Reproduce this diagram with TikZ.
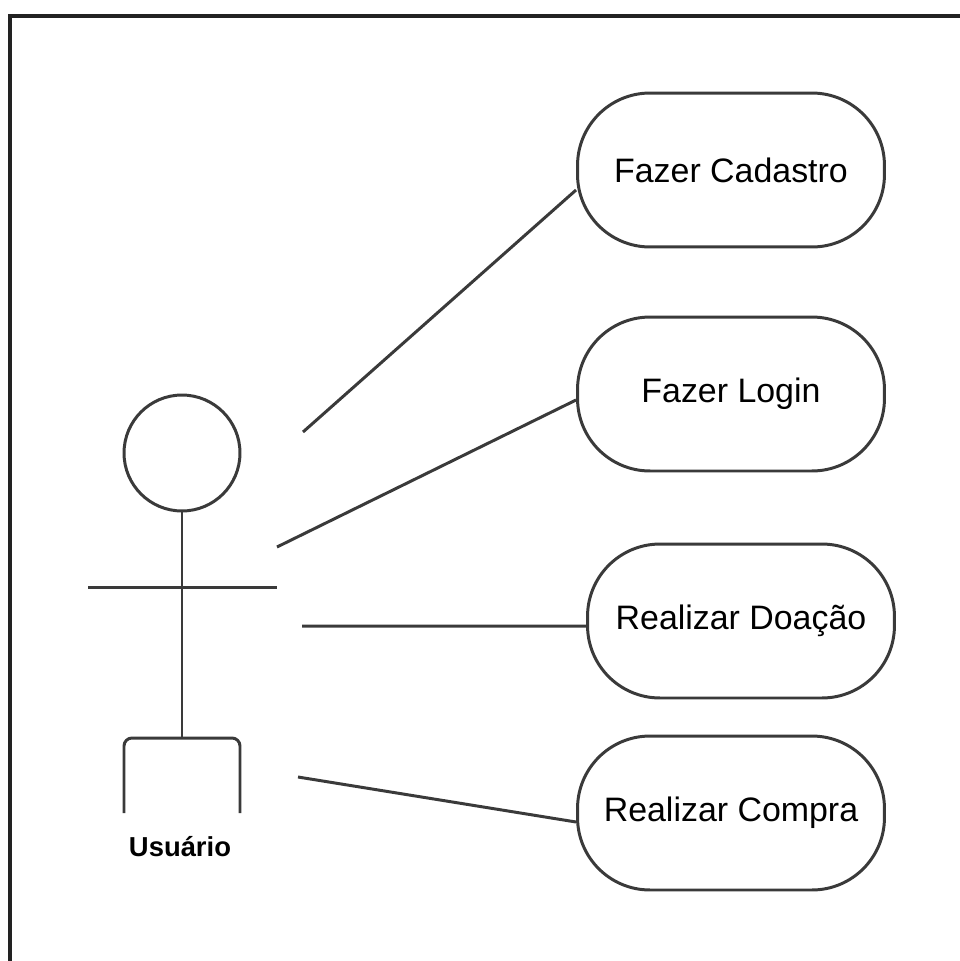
\documentclass[tikz,border=0pt]{standalone}
\usepackage{fontspec}
\setmainfont{Liberation Sans}
\usepackage{tikz}
\usetikzlibrary{positioning}
\definecolor{linegray}{HTML}{3A3A3A}
\definecolor{framegray}{HTML}{222222}

\begin{document}
\begin{tikzpicture}[x=0.02cm,y=-0.02cm,
    stick/.style={draw=linegray,line width=1.7pt},
    usecase/.style={stick,rounded corners=1.45cm,minimum width=6.14cm,minimum height=3.08cm,
      inner sep=0pt,font=\fontsize{19.3}{23}\selectfont},
    link/.style={stick}]
  \useasboundingbox (0,0) rectangle (960,961);

  % outer frame (only left and top edges are visible)
  \draw [color=framegray,line width=2.8pt] (10,961) -- (10,16) -- (960,16);

  % actor
  \path (182,453) node (head) [stick,circle,minimum size=2.32cm,inner sep=0pt]{};
  \path (182,738) coordinate (hip);
  \path (88,587) coordinate (armL);
  \path (277,587) coordinate (armR);
  \draw [stick] (head.south) -- (hip);
  \draw [stick] (armL) -- (armR);
  \draw [stick,rounded corners=0.16cm] (124,813) -- (124,738) -- (240,738) -- (240,813);
  \path (180,847) node (actor) {\fontsize{15.6}{18}\selectfont\bfseries Usuário};

  % use cases
  \path (731,170) node (uc1) [usecase]{Fazer Cadastro};
  \path (731,394) node (uc2) [usecase]{Fazer Login};
  \path (741,621) node (uc3) [usecase]{Realizar Doação};
  \path (731,813) node (uc4) [usecase]{Realizar Compra};

  % free ends of the associations, next to the actor
  \path (303,432) coordinate (a1);
  \path (277,547) coordinate (a2);
  \path (302,626) coordinate (a3);
  \path (298,777) coordinate (a4);

  \draw [link] (a1) -- ([yshift=-0.4cm]uc1.west);
  \draw [link] (a2) -- ([yshift=-0.12cm]uc2.west);
  \draw [link] (a3) -- ([yshift=-0.1cm]uc3.west);
  \draw [link] (a4) -- ([yshift=-0.18cm]uc4.west);

\end{tikzpicture}
\end{document}
